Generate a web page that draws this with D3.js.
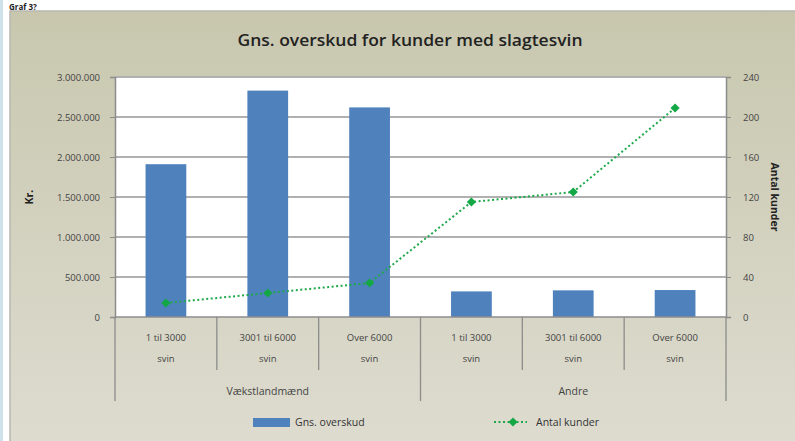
<!DOCTYPE html>
<html><head><meta charset="utf-8">
<script src="https://cdn.jsdelivr.net/npm/d3@7"></script>
<style>body{margin:0;background:#fff;}svg{display:block;}</style>
</head><body>
<svg id="c" width="795" height="441"></svg>
<script>
const categories = ["1 til 3000|svin","3001 til 6000|svin","Over 6000|svin","1 til 3000|svin","3001 til 6000|svin","Over 6000|svin"];
const groups = ["Vækstlandmænd","Andre"];
const overskud = [1910000, 2830000, 2620000, 320000, 333000, 337000];
const kunder = [14, 24, 34, 115, 125, 209];
const leftTicks = [0,500000,1000000,1500000,2000000,2500000,3000000];
const rightTicks = [0,40,80,120,160,200,240];
const fmt = v => d3.format(",")(v).replace(/,/g,".");

const svg = d3.select("#c");
const defs = svg.append("defs");
const g = defs.append("linearGradient").attr("id","bg").attr("x1",0).attr("y1",0).attr("x2",0).attr("y2",1);
g.append("stop").attr("offset","0%").attr("stop-color","#c8c7ae");
g.append("stop").attr("offset","100%").attr("stop-color","#dedcd0");

// page decorations
svg.append("rect").attr("x",0).attr("y",0).attr("width",3).attr("height",441).attr("fill","#cfe1ea");
svg.append("text").attr("x",9).attr("y",10).attr("font-family","Open Sans").attr("font-size",8).attr("font-weight","bold").attr("fill","#222").text("Graf 3?");
svg.append("rect").attr("x",10).attr("y",11).attr("width",790).attr("height",440).attr("fill","url(#bg)").attr("stroke","#b8b8b0").attr("stroke-width",1.5);

const L=115,R=726,T=77,B=317;
const x = d3.scaleBand().domain(d3.range(6)).range([L,R]).paddingInner(0.6).paddingOuter(0.3);
const xb = d3.scaleBand().domain(d3.range(6)).range([L,R]);
const y = d3.scaleLinear().domain([0,3000000]).range([B,T]);
const y2 = d3.scaleLinear().domain([0,240]).range([B,T]);

svg.append("rect").attr("x",L).attr("y",T).attr("width",R-L).attr("height",B-T).attr("fill","#fff");
// grid
svg.append("g").selectAll("line").data(leftTicks.slice(1)).join("line")
  .attr("x1",L).attr("x2",R).attr("y1",d=>y(d)).attr("y2",d=>y(d))
  .attr("stroke","#b0b0b0").attr("stroke-width",1.8);

// bars
svg.append("g").selectAll("rect").data(overskud).join("rect")
  .attr("x",(d,i)=>x(i)).attr("width",x.bandwidth())
  .attr("y",d=>y(d)).attr("height",d=>B-y(d)).attr("fill","#4f81bd");

// axes
const la = svg.append("g").attr("transform",`translate(${L},0)`)
  .call(d3.axisLeft(y).tickValues(leftTicks).tickFormat(fmt).tickSize(5).tickPadding(10));
const ra = svg.append("g").attr("transform",`translate(${R},0)`)
  .call(d3.axisRight(y2).tickValues(rightTicks).tickSize(5).tickPadding(12));
[la,ra].forEach(a=>{
  a.select(".domain").attr("stroke","#8c8c8c").attr("stroke-width",1.5);
  a.selectAll(".tick line").attr("stroke","#8c8c8c");
  a.selectAll("text").attr("font-family","Open Sans").attr("font-size",9.5).attr("fill","#444");
});
svg.append("line").attr("x1",L).attr("x2",R).attr("y1",B).attr("y2",B).attr("stroke","#8c8c8c").attr("stroke-width",1.5);

// category separators
const sep = svg.append("g").attr("stroke","#8c8c8c").attr("stroke-width",1.3);
d3.range(7).forEach(i=>{
  const xx = i<6 ? xb(i) : R;
  const outer = (i===0||i===3||i===6);
  sep.append("line").attr("x1",xx).attr("x2",xx).attr("y1",B).attr("y2",outer?401:370);
});
const cl = svg.append("g").attr("font-family","Open Sans").attr("font-size",9.5).attr("fill","#444").attr("text-anchor","middle");
categories.forEach((c,i)=>{
  const [a,b] = c.split("|");
  const cx = xb(i)+xb.bandwidth()/2;
  cl.append("text").attr("x",cx).attr("y",341).text(a);
  cl.append("text").attr("x",cx).attr("y",362).text(b);
});
groups.forEach((gname,k)=>{
  const cx = (xb(k*3)+ (k===0?xb(3):R))/2;
  cl.append("text").attr("x",cx).attr("y",395).attr("font-size",10.5).text(gname);
});

// line
const line = d3.line().x((d,i)=>xb(i)+xb.bandwidth()/2).y(d=>y2(d));
svg.append("path").datum(kunder).attr("d",line).attr("fill","none")
  .attr("stroke","#1fa84a").attr("stroke-width",2).attr("stroke-dasharray","2,2.5");
const diamond = d3.symbol().type(d3.symbolSquare).size(42);
svg.append("g").selectAll("path").data(kunder).join("path")
  .attr("transform",(d,i)=>`translate(${xb(i)+xb.bandwidth()/2},${y2(d)}) rotate(45)`)
  .attr("d",diamond).attr("fill","#13a845");

// titles
svg.append("text").attr("x",410).attr("y",46).attr("text-anchor","middle")
  .attr("font-family","Open Sans").attr("font-size",16).attr("font-weight",600).attr("fill","#222")
  .attr("textLength",345).attr("lengthAdjust","spacingAndGlyphs")
  .text("Gns. overskud for kunder med slagtesvin");
svg.append("text").attr("transform","translate(33,197) rotate(-90)").attr("text-anchor","middle")
  .attr("font-family","Open Sans").attr("font-size",10.5).attr("font-weight","bold").attr("fill","#222").text("Kr.");
svg.append("text").attr("transform","translate(771,197) rotate(90)").attr("text-anchor","middle")
  .attr("font-family","Open Sans").attr("font-size",10.5).attr("font-weight","bold").attr("fill","#222").text("Antal kunder");

// legend
const lg = svg.append("g").attr("font-family","Open Sans").attr("font-size",10.5).attr("fill","#333");
lg.append("rect").attr("x",253).attr("y",418).attr("width",37).attr("height",9).attr("fill","#4f81bd");
lg.append("text").attr("x",295).attr("y",426).text("Gns. overskud");
lg.append("line").attr("x1",494).attr("x2",527).attr("y1",422).attr("y2",422)
  .attr("stroke","#1fa84a").attr("stroke-width",2).attr("stroke-dasharray","2,2.5");
lg.append("path").attr("transform","translate(513,422) rotate(45)").attr("d",diamond).attr("fill","#13a845");
lg.append("text").attr("x",536).attr("y",426).text("Antal kunder");
</script>
</body></html>
